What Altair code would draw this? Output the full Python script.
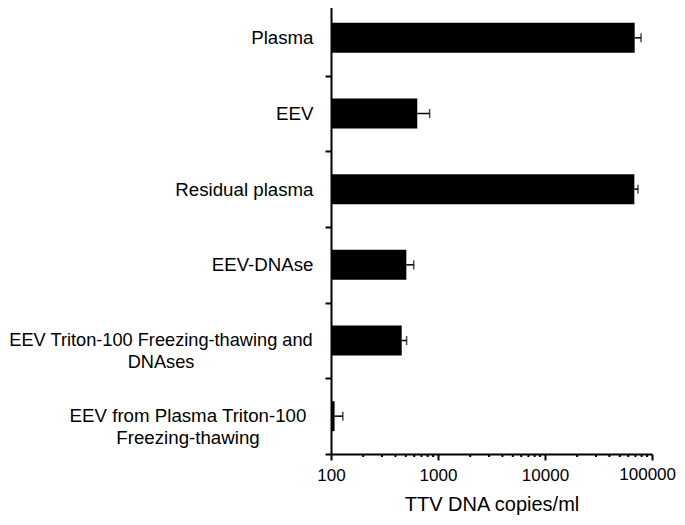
import altair as alt
import pandas as pd

categories = [
    "Plasma",
    "EEV",
    "Residual plasma",
    "EEV-DNAse",
    "EEV Triton-100 Freezing-thawing and\nDNAses",
    "EEV from Plasma Triton-100\nFreezing-thawing",
]
means = [68900, 640, 68400, 506, 458, 108]
uppers = [79000, 835, 74000, 593, 509, 129]

major_ticks = [100, 1000, 10000, 100000]
minor_ticks = [m * d for d in [100, 1000, 10000] for m in range(2, 10)]

df = pd.DataFrame({"cat": categories, "mean": means, "upper": uppers})
minor_df = pd.DataFrame({"tick": minor_ticks})
last_df = pd.DataFrame({"tick": [major_ticks[-1]]})

FONT = "Liberation Sans"
WIDTH = 321
HEIGHT = 454
LEFT = 323

y_enc = alt.Y(
    "cat:N",
    sort=categories,
    scale=alt.Scale(paddingInner=0, paddingOuter=0),
    axis=alt.Axis(
        title=None,
        tickBand="extent",
        tickSize=6,
        tickWidth=2,
        tickColor="black",
        domainColor="black",
        domainWidth=2,
        labelFont=FONT,
        labelFontSize=18.7,
        labelColor="black",
        labelLimit=0,
        labelPadding=12,
        labelExpr="indexof(datum.label, '\\n') >= 0 ? '' : datum.label",
    ),
)

x_scale = alt.Scale(type="log", domain=[100, 100000])

bars = alt.Chart(df).mark_bar(color="black", size=30).encode(
    y=y_enc,
    x=alt.X(
        "mean:Q",
        scale=x_scale,
        title="TTV DNA copies/ml",
        axis=alt.Axis(
            values=major_ticks,
            format="d",
            labelExpr=f"datum.value == {major_ticks[-1]} ? '' : datum.label",
            tickSize=6,
            tickWidth=2,
            tickColor="black",
            domainColor="black",
            domainWidth=2,
            labelFont=FONT,
            labelFontSize=17,
            labelColor="black",
            labelPadding=7,
            labelFlush=False,
            labelOverlap=False,
            titleFont=FONT,
            titleFontSize=20,
            titleFontWeight="normal",
            titleColor="black",
            titlePadding=11,
            grid=False,
        ),
    ),
    x2=alt.datum(100),
)

minor = alt.Chart(minor_df).mark_rule(color="black", strokeWidth=2).encode(
    x=alt.X("tick:Q", scale=x_scale),
    y=alt.value(HEIGHT),
    y2=alt.value(HEIGHT + 3),
)

# last tick label, kept inside the page edge
last_label = alt.Chart(last_df).mark_text(
    font=FONT, fontSize=17, color="black", align="right", baseline="top", dx=24,
).encode(
    x=alt.X("tick:Q", scale=x_scale),
    y=alt.value(HEIGHT + 13),
    text=alt.Text("tick:Q", format="d"),
)

err = alt.Chart(df).mark_rule(color="black", strokeWidth=1.5).encode(
    y=alt.Y("cat:N", sort=categories),
    x=alt.X("mean:Q", scale=x_scale),
    x2="upper:Q",
)

caps = alt.Chart(df).mark_tick(color="black", size=9, thickness=1.5).encode(
    y=alt.Y("cat:N", sort=categories),
    x=alt.X("upper:Q", scale=x_scale),
)

# two-line category labels, each line centred under the other
label_a = alt.Chart(df).transform_filter(
    alt.datum.cat == categories[4]
).mark_text(
    font=FONT, fontSize=18.2, color="black", align="center",
    baseline="middle", lineBreak="\n", lineHeight=22,
).encode(
    y=alt.Y("cat:N", sort=categories),
    x=alt.value(-170),
    text="cat:N",
)

label_b = alt.Chart(df).transform_filter(
    alt.datum.cat == categories[5]
).mark_text(
    font=FONT, fontSize=18.7, color="black", align="center",
    baseline="middle", lineBreak="\n", lineHeight=22,
).encode(
    y=alt.Y("cat:N", sort=categories),
    x=alt.value(-143),
    text="cat:N",
)

chart = alt.layer(bars, err, caps, minor, last_label, label_a, label_b).properties(
    width=WIDTH,
    height=HEIGHT,
    padding={"left": LEFT, "right": 669 - LEFT - WIDTH, "top": -8, "bottom": 509 + 8 - HEIGHT},
    autosize=alt.AutoSizeParams(type="none"),
).configure_view(stroke=None)

chart.save("out.html", embed_options={"renderer": "svg", "actions": False})
